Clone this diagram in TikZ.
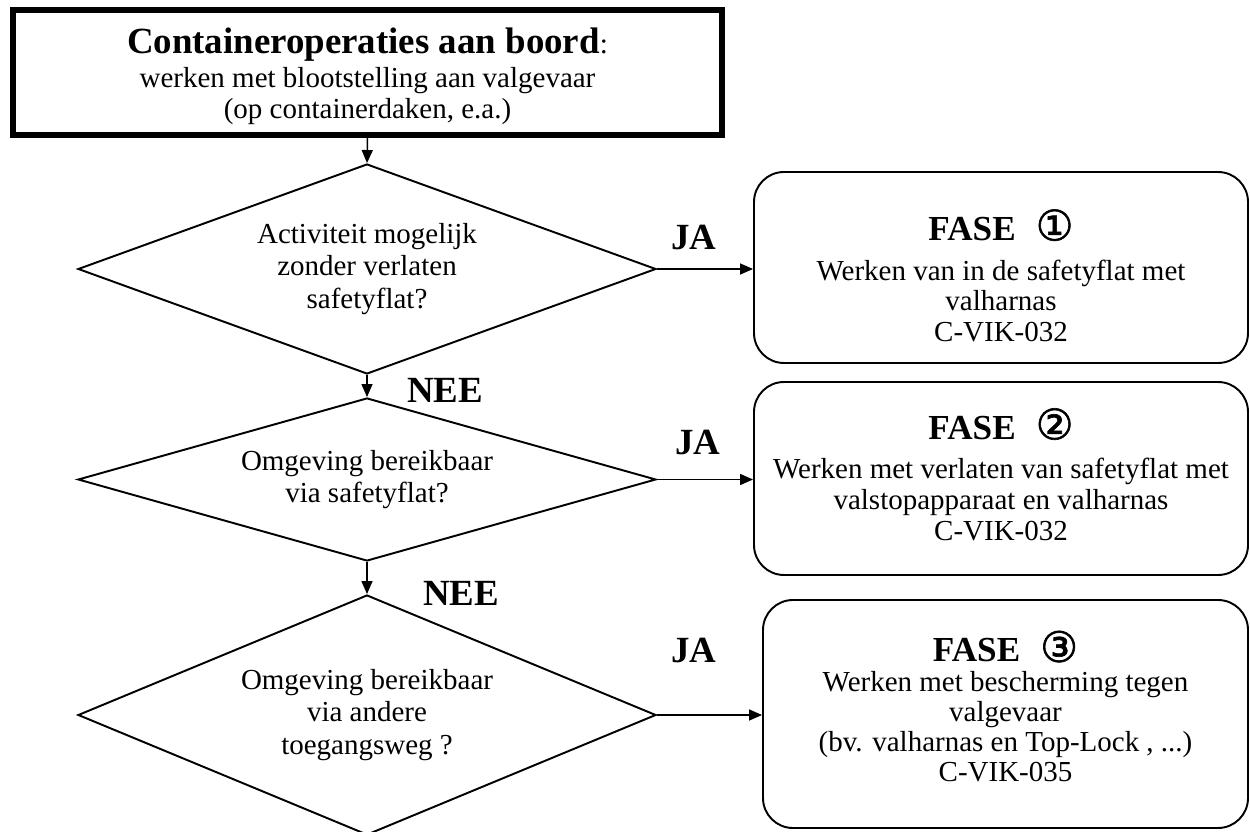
\documentclass[tikz,border=0pt]{standalone}
\usepackage{fontspec}
\setmainfont{Liberation Serif}
\newfontfamily\circfont[FakeBold=1.5]{DejaVu Sans}
\usetikzlibrary{shapes.geometric,arrows.meta}

\tikzset{
  vraag/.style={draw, line width=1.1pt, shape=diamond, aspect=2.75, inner sep=0pt,
    minimum width=11.56cm, align=center, font=\fontsize{16.5}{18.5}\selectfont},
  fase/.style={draw, line width=1.1pt, rounded corners=0.6cm, align=center,
    font=\fontsize{16.5}{17.5}\selectfont},
  pijl/.style={line width=0.85pt, -{Triangle[length=0.26cm,width=0.22cm]}},
  antw/.style={font=\fontsize{21}{24}\selectfont\bfseries}
}
\newcommand{\fasetitel}[1]{{\fontsize{20}{22}\selectfont\bfseries FASE\hspace{0.4cm}\smash{\circfont\mdseries\fontsize{24}{26}\selectfont #1}}}

\begin{document}
\begin{tikzpicture}
	\useasboundingbox (0,0) rectangle (25,-16.64);

	\node[draw, line width=3.4pt, minimum width=14.18cm, minimum height=2.5cm, align=center,
		font=\fontsize{16.5}{17.6}\selectfont] (start) at (7.35,-1.45)
		{\rule{0pt}{19pt}{\fontsize{21}{24}\selectfont\bfseries Containeroperaties aan boord}:\\[2pt]
		 werken met blootstelling aan valgevaar\\
		 (op containerdaken, e.a.)};

	% vragen
	\node[vraag, minimum height=4.2cm] (vraag1) at (7.34,-5.38)
		{Activiteit mogelijk\\ zonder verlaten\\ safetyflat?};
	\node[vraag, minimum height=3.26cm] (vraag2) at (7.34,-9.59)
		{Omgeving bereikbaar\\ via safetyflat?};
	\node[vraag, minimum height=4.8cm] (vraag3) at (7.34,-14.3)
		{Omgeving bereikbaar\\ via andere\\ toegangsweg ?};

	% fases
	\node[fase, minimum width=9.88cm, minimum height=3.82cm] (fase1) at (20.02,-5.35)
		{\rule{0pt}{27pt}\fasetitel{①}\\[5pt] Werken van in de safetyflat met\\ valharnas\\ C-VIK-032};
	\node[fase, minimum width=9.88cm, minimum height=3.86cm] (fase2) at (20.02,-9.57)
		{\fasetitel{②}\\[5pt] Werken met verlaten van safetyflat met\\ valstopapparaat en valharnas\\ C-VIK-032};
	\node[fase, minimum width=9.7cm, minimum height=4.56cm, font=\fontsize{16.5}{17}\selectfont] (fase3) at (20.11,-14.28)
		{\fasetitel{③}\\ Werken met bescherming tegen\\ valgevaar\\ (bv. valharnas en Top-Lock , ...)\\ C-VIK-035\rule[-4.5pt]{0pt}{0pt}};

	\node[antw] (ja1) at (13.88,-4.76) {JA};
	\node[antw] (ja2) at (13.96,-8.86) {JA};
	\node[antw] (ja3) at (13.88,-13.0) {JA};
	\node[antw] (nee1) at (8.9,-7.8) {NEE};
	\node[antw] (nee2) at (9.22,-11.86) {NEE};

	\draw[pijl] (start.south) -- (vraag1.north);
	\draw[pijl] (vraag1.south) -- (vraag2.north);
	\draw[pijl] (vraag2.south) -- (vraag3.north);
	\draw[pijl] (vraag1.east) -- (vraag1.east -| fase1.west);
	\draw[pijl] (vraag2.east) -- (vraag2.east -| fase2.west);
	\draw[pijl] (vraag3.east) -- (vraag3.east -| fase3.west);
\end{tikzpicture}
\end{document}
